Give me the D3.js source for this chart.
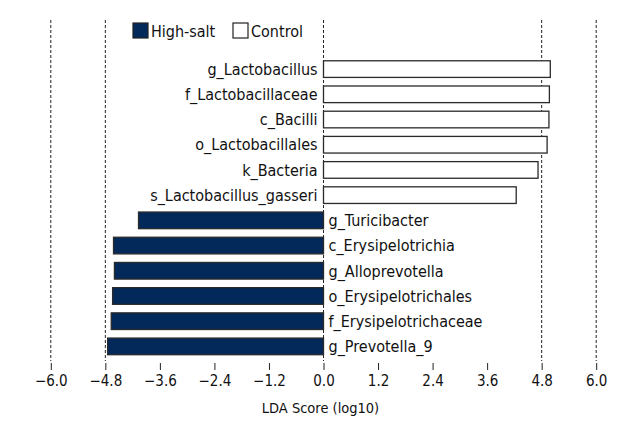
<!DOCTYPE html>
<html><head><meta charset="utf-8">
<script src="https://cdn.jsdelivr.net/npm/d3@7"></script>
<style>body{margin:0;background:#fff}svg{display:block}text{font-family:"DejaVu Sans Condensed","DejaVu Sans",sans-serif;font-stretch:condensed;fill:#111}</style>
</head><body>
<svg id="c" width="640" height="440"></svg>
<script>
const taxa = ["g_Lactobacillus","f_Lactobacillaceae","c_Bacilli","o_Lactobacillales","k_Bacteria","s_Lactobacillus_gasseri","g_Turicibacter","c_Erysipelotrichia","g_Alloprevotella","o_Erysipelotrichales","f_Erysipelotrichaceae","g_Prevotella_9"];
const groups = ["Control","Control","Control","Control","Control","Control","High-salt","High-salt","High-salt","High-salt","High-salt","High-salt"];
const ldaScores = [4.99,4.97,4.96,4.92,4.72,4.24,-4.07,-4.62,-4.60,-4.64,-4.67,-4.75];
const tickValues = [-6.0,-4.8,-3.6,-2.4,-1.2,0.0,1.2,2.4,3.6,4.8,6.0];
const gridValues = [-6.0,-4.8,0.0,4.8,6.0];
const legendLabels = ["High-salt","Control"];
const colors = {"High-salt":"#03295a","Control":"#ffffff"};

const svg = d3.select("#c");
const x = d3.scaleLinear().domain([-6,6]).range([50.8,596.2]);
const y = d3.scaleBand().domain(taxa).range([56.5,359]).paddingInner(0.34).paddingOuter(0.17);

// dashed guide lines
svg.append("g").selectAll("line").data(gridValues).join("line")
  .attr("x1",d=>x(d)).attr("x2",d=>x(d)).attr("y1",20).attr("y2",361)
  .attr("stroke","#222").attr("stroke-width",1).attr("stroke-dasharray","3,2");

// bars
const data = taxa.map((t,i)=>({t,g:groups[i],v:ldaScores[i]}));
svg.append("g").selectAll("rect").data(data).join("rect")
  .attr("x",d=>x(Math.min(0,d.v))).attr("width",d=>Math.abs(x(d.v)-x(0)))
  .attr("y",d=>y(d.t)).attr("height",y.bandwidth())
  .attr("fill",d=>colors[d.g]).attr("stroke","#2a2a2a").attr("stroke-width",1.3);

// labels
svg.append("g").selectAll("text").data(data).join("text")
  .attr("x",d=>d.v>0 ? x(0)-6 : x(0)+5)
  .attr("y",d=>y(d.t)+y.bandwidth()/2)
  .attr("dy","0.36em")
  .attr("text-anchor",d=>d.v>0?"end":"start")
  .style("font-size","16px")
  .text(d=>d.t);

// axis
const ax = d3.axisBottom(x).tickValues(tickValues).tickSize(7).tickPadding(5)
  .tickFormat(d=>d3.format(".1f")(d).replace("-","\u2212"));
const axg = svg.append("g").attr("transform","translate(0,363)").call(ax);
axg.select(".domain").remove();
axg.selectAll(".tick line").attr("stroke","#222");
axg.selectAll(".tick text").style("font-size","15px").style("font-family",null).attr("fill","#111");

svg.append("text").attr("x",x(0)-3).attr("y",413).attr("text-anchor","middle")
  .style("font-size","14.5px").text("LDA Score (log10)");

// legend
const lg = svg.append("g");
const lx = [133,233];
legendLabels.forEach((l,i)=>{
  lg.append("rect").attr("x",lx[i]).attr("y",23).attr("width",15).attr("height",15)
    .attr("fill",colors[l]).attr("stroke","#222").attr("stroke-width",1.2);
  lg.append("text").attr("x",lx[i]+18).attr("y",31).attr("dy","0.36em")
    .style("font-size","16px").text(l);
});
</script>
</body></html>
